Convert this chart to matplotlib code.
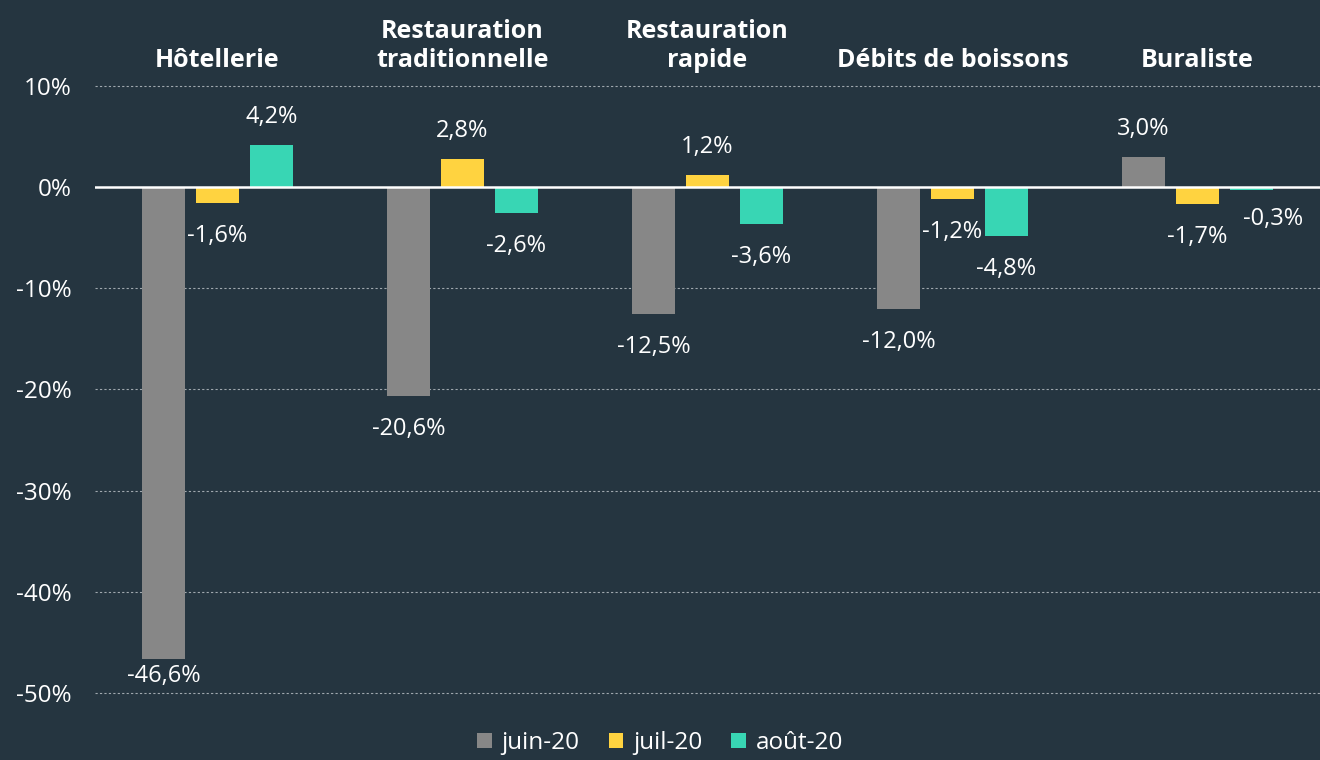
import numpy as np
import matplotlib.pyplot as plt

categories = ["Hôtellerie", "Restauration\ntraditionnelle", "Restauration\nrapide",
              "Débits de boissons", "Buraliste"]
series_names = ["juin-20", "juil-20", "août-20"]
juin = [-46.6, -20.6, -12.5, -12.0, 3.0]
juil = [-1.6, 2.8, 1.2, -1.2, -1.7]
aout = [4.2, -2.6, -3.6, -4.8, -0.3]
yticks = [10, 0, -10, -20, -30, -40, -50]

bg = "#253540"
colors = ["#878787", "#FFD340", "#38D6B4"]

plt.rcParams['font.family'] = ['Open Sans', 'DejaVu Sans']

fig = plt.figure(figsize=(13.2, 7.6), dpi=100, facecolor=bg)
ax = fig.add_axes([0.072, 0.088, 0.928, 0.799])
ax.set_facecolor(bg)

x = np.arange(len(categories))
width = 0.176
offset = 0.22
for i, (vals, name, col) in enumerate(zip([juin, juil, aout], series_names, colors)):
    pos = x + (i - 1) * offset
    ax.bar(pos, vals, width, color=col, label=name, zorder=2)
    for px, v in zip(pos, vals):
        txt = f"{v:.1f}%".replace(".", ",")
        dx = 0
        if v >= 0:
            dy = 28
        elif v < -40:
            dy = -17
        elif v > -0.5:
            dy, dx = -29, 22
        else:
            dy = -33
        ax.annotate(txt, (px, v), xytext=(dx * 0.72, dy * 0.72), textcoords="offset points",
                    ha="center", va="center", color="white", fontsize=17)

ax.set_xlim(-0.5, len(categories) - 0.5)
ax.set_ylim(-50, 10)
ax.set_yticks(yticks)
ax.set_yticklabels([f"{t}%" for t in yticks], color="white", fontsize=17.5)
ax.set_xticks([])
ax.tick_params(axis="y", length=0, pad=17)
for t in yticks:
    if t != 0:
        ax.axhline(t, color="#a0a8ae", lw=0.8, ls=(0, (2, 2)), zorder=1, clip_on=False)
ax.axhline(0, color="white", lw=1.8, zorder=3)
for s in ax.spines.values():
    s.set_visible(False)

for xi, cat in zip(x, categories):
    ax.text(xi, 1.022, cat, transform=ax.get_xaxis_transform(), ha="center", va="bottom",
            color="white", fontsize=18, fontweight="bold", linespacing=1.2)

leg = fig.legend(loc="lower center", bbox_to_anchor=(0.5, -0.022), ncol=3, frameon=False,
                 fontsize=17.5, handlelength=0.6, handleheight=0.6, handletextpad=0.4,
                 columnspacing=1.2)
for t in leg.get_texts():
    t.set_color("white")

fig.savefig("out.png", dpi=100, facecolor=bg)
